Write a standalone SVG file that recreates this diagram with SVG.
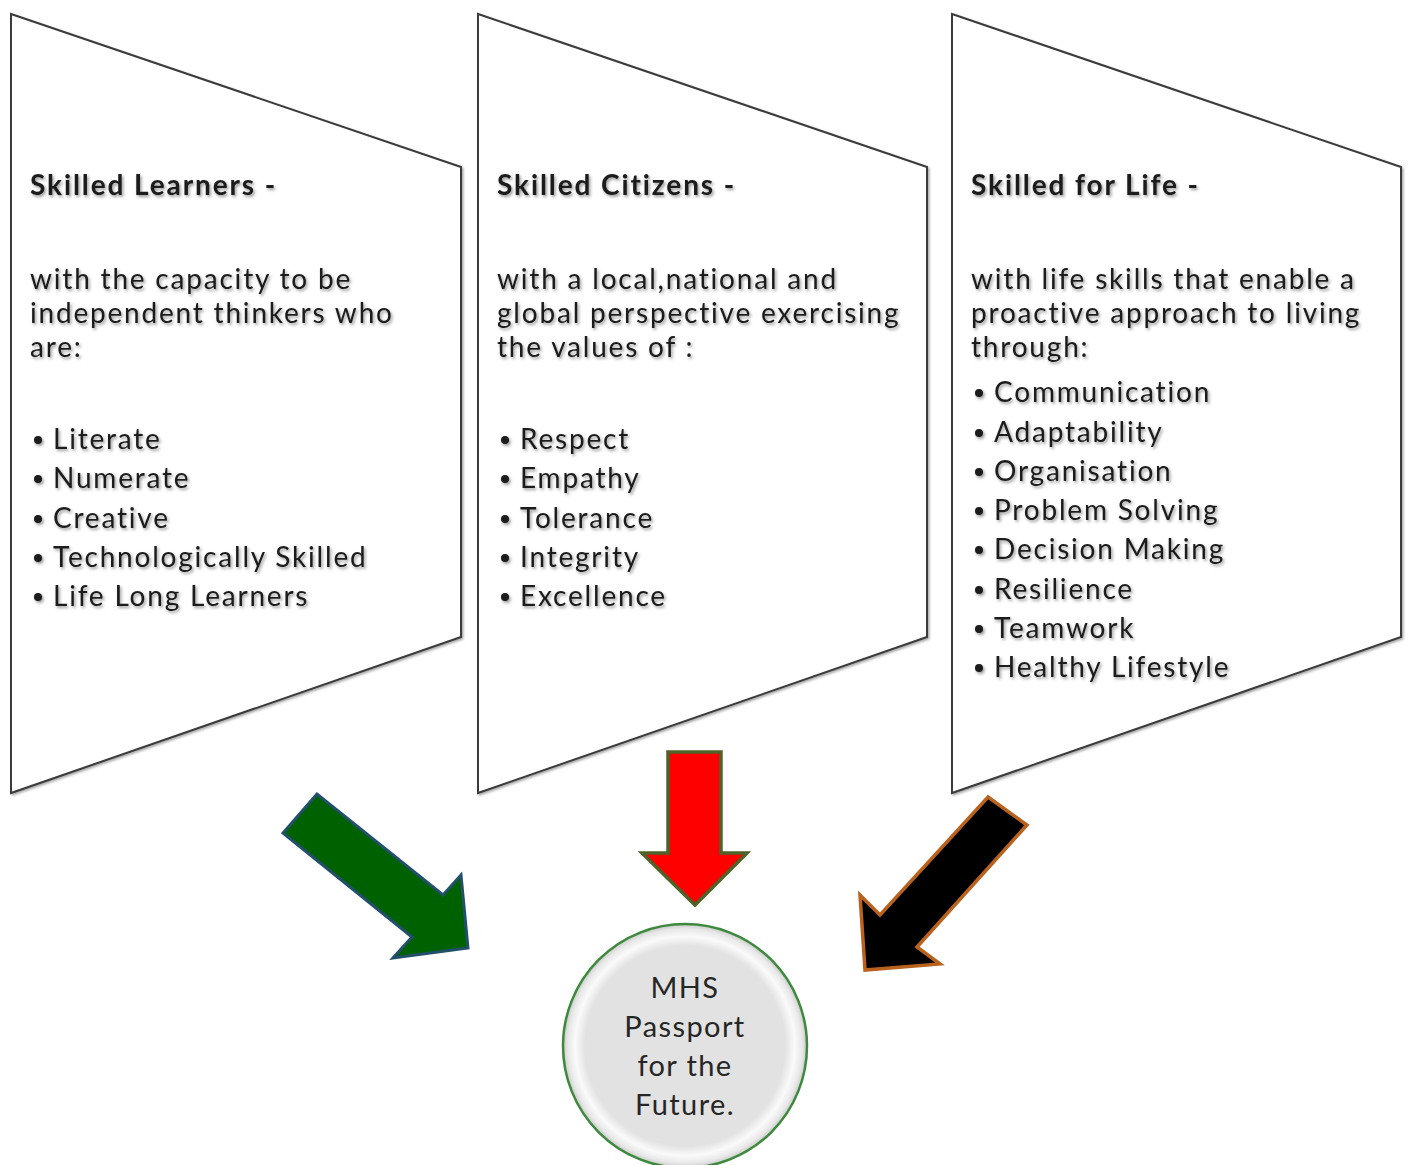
<svg xmlns="http://www.w3.org/2000/svg" width="1411" height="1165" viewBox="0 0 1411 1165">
  <defs>
    <filter id="txtShadow" x="-5%" y="-20%" width="110%" height="150%">
      <feDropShadow dx="1.5" dy="2" stdDeviation="1.5" flood-color="#000" flood-opacity="0.4"/>
    </filter>
    <filter id="lineShadow" x="-5%" y="-5%" width="110%" height="110%">
      <feDropShadow dx="1.5" dy="1.5" stdDeviation="1.2" flood-color="#000" flood-opacity="0.35"/>
    </filter>
    <radialGradient id="disc" cx="0.5" cy="0.5" r="0.5">
      <stop offset="0" stop-color="#e2e2e2"/>
      <stop offset="0.82" stop-color="#e2e2e2"/>
      <stop offset="0.9" stop-color="#fafafa"/>
      <stop offset="0.96" stop-color="#e8e8e8"/>
      <stop offset="1" stop-color="#c8c8c8"/>
    </radialGradient>
  </defs>
  <style>
    .panel { fill: #ffffff; stroke: #3a3a3a; stroke-width: 2; filter: url(#lineShadow); }
    .txt { filter: url(#txtShadow); }
    .t { font-family: Lato, "Liberation Sans", sans-serif; font-size: 28px; letter-spacing: 1.8px; fill: #1a1a1a; }
    .h { font-weight: bold; letter-spacing: 1.9px; }
    .b { fill: #1a1a1a; }
    .c { font-family: Lato, "Liberation Sans", sans-serif; font-size: 29px; letter-spacing: 1.4px; fill: #262626; text-anchor: middle; }
  </style>
  <rect width="1411" height="1165" fill="#ffffff"/>

  <!-- Skilled Learners -->
  <g id="learners">
    <polygon class="panel" points="11,14 461,167 461,637 11,793"/>
    <g class="txt">
      <text class="t h" x="30" y="195">Skilled Learners -</text>
      <text class="t" x="30" y="289">with the capacity to be</text>
      <text class="t" x="30" y="323">independent thinkers who</text>
      <text class="t" x="30" y="357">are:</text>
      <circle class="b" cx="38" cy="440" r="4"/>
      <circle class="b" cx="38" cy="479" r="4"/>
      <circle class="b" cx="38" cy="519" r="4"/>
      <circle class="b" cx="38" cy="558" r="4"/>
      <circle class="b" cx="38" cy="597" r="4"/>
      <text class="t" x="53" y="449">Literate</text>
      <text class="t" x="53" y="488">Numerate</text>
      <text class="t" x="53" y="528">Creative</text>
      <text class="t" x="53" y="567">Technologically Skilled</text>
      <text class="t" x="53" y="606">Life Long Learners</text>
    </g>
  </g>

  <!-- Skilled Citizens -->
  <g id="citizens">
    <polygon class="panel" points="478,14 927,167 927,637 478,793"/>
    <g class="txt">
      <text class="t h" x="497" y="195">Skilled Citizens -</text>
      <text class="t" x="497" y="289">with a local,national and</text>
      <text class="t" x="497" y="323">global perspective exercising</text>
      <text class="t" x="497" y="357">the values of :</text>
      <circle class="b" cx="505" cy="440" r="4"/>
      <circle class="b" cx="505" cy="479" r="4"/>
      <circle class="b" cx="505" cy="519" r="4"/>
      <circle class="b" cx="505" cy="558" r="4"/>
      <circle class="b" cx="505" cy="597" r="4"/>
      <text class="t" x="520" y="449">Respect</text>
      <text class="t" x="520" y="488">Empathy</text>
      <text class="t" x="520" y="528">Tolerance</text>
      <text class="t" x="520" y="567">Integrity</text>
      <text class="t" x="520" y="606">Excellence</text>
    </g>
  </g>

  <!-- Skilled for Life -->
  <g id="life">
    <polygon class="panel" points="952,14 1401,167 1401,637 952,793"/>
    <g class="txt">
      <text class="t h" x="971" y="195">Skilled for Life -</text>
      <text class="t" x="971" y="289">with life skills that enable a</text>
      <text class="t" x="971" y="323">proactive approach to living</text>
      <text class="t" x="971" y="357">through:</text>
      <circle class="b" cx="979" cy="393" r="4"/>
      <circle class="b" cx="979" cy="433" r="4"/>
      <circle class="b" cx="979" cy="472" r="4"/>
      <circle class="b" cx="979" cy="511" r="4"/>
      <circle class="b" cx="979" cy="550" r="4"/>
      <circle class="b" cx="979" cy="590" r="4"/>
      <circle class="b" cx="979" cy="629" r="4"/>
      <circle class="b" cx="979" cy="668" r="4"/>
      <text class="t" x="994" y="402">Communication</text>
      <text class="t" x="994" y="442">Adaptability</text>
      <text class="t" x="994" y="481">Organisation</text>
      <text class="t" x="994" y="520">Problem Solving</text>
      <text class="t" x="994" y="559">Decision Making</text>
      <text class="t" x="994" y="599">Resilience</text>
      <text class="t" x="994" y="638">Teamwork</text>
      <text class="t" x="994" y="677">Healthy Lifestyle</text>
    </g>
  </g>

  <!-- Block arrows pointing at the passport -->
  <g id="connectors">
    <polygon points="317,794 283,833 412,937 393,958 468,948 461,875 443,895" fill="#006100" stroke="#22506a" stroke-width="3" stroke-linejoin="miter"/>
    <polygon points="668,752 721,752 721,853 747,853 695,905 642,853 668,853" fill="#ff0000" stroke="#4f6228" stroke-width="3.5" stroke-linejoin="miter"/>
    <polygon points="988,797 1027,825 917,947 940,964 865,970 860,895 880,915" fill="#000000" stroke="#b8621e" stroke-width="3.5" stroke-linejoin="miter"/>
  </g>

  <!-- Passport disc -->
  <g id="passport">
    <circle cx="685" cy="1046" r="122" fill="url(#disc)" stroke="#3d8a3d" stroke-width="2.5"/>
    <text class="c" x="685" y="998">MHS</text>
    <text class="c" x="685" y="1037">Passport</text>
    <text class="c" x="685" y="1076">for the</text>
    <text class="c" x="685" y="1115">Future.</text>
  </g>
</svg>
